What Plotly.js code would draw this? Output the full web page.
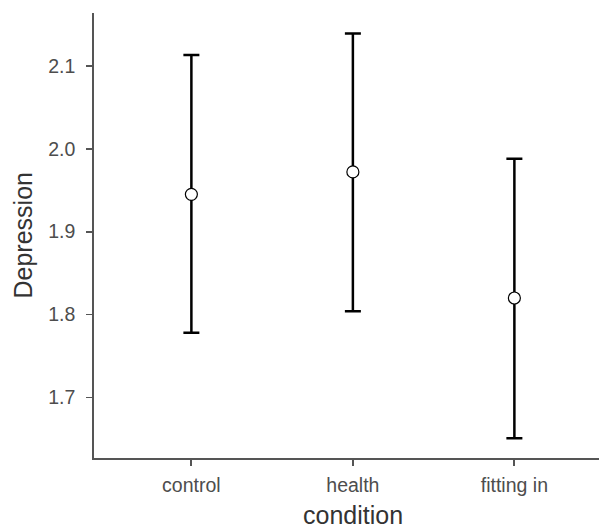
<!DOCTYPE html>
<html>
<head>
<meta charset="utf-8">
<script src="https://cdn.plot.ly/plotly-3.0.1.min.js"></script>
<style>html,body{margin:0;padding:0;background:#fff;}#chart{width:599px;height:531px;}</style>
</head>
<body>
<div id="chart"></div>
<script>
const categories = ["control", "health", "fitting in"];
const means = [1.945, 1.972, 1.820];
const upper = [2.113, 2.139, 1.988];
const lower = [1.778, 1.804, 1.651];
const yTicks = [1.7, 1.8, 1.9, 2.0, 2.1];
const yTickText = ["1.7", "1.8", "1.9", "2.0", "2.1"];

const xIdx = categories.map((c, i) => i + 1);
const errPlus = means.map((m, i) => upper[i] - m);
const errMinus = means.map((m, i) => m - lower[i]);

const font = "Liberation Sans, Arial, sans-serif";

const trace = {
  type: "scatter",
  mode: "markers",
  x: xIdx,
  y: means,
  marker: {symbol: "circle", size: 12, color: "#ffffff", line: {color: "#000000", width: 1.2}},
  error_y: {type: "data", symmetric: false, array: errPlus, arrayminus: errMinus,
            color: "#000000", thickness: 2.5, width: 8},
  hoverinfo: "none",
  showlegend: false
};

const layout = {
  width: 599, height: 531,
  margin: {l: 94, r: 0, t: 13, b: 73, pad: 0},
  paper_bgcolor: "#ffffff",
  plot_bgcolor: "#ffffff",
  font: {family: font},
  xaxis: {
    range: [0.397, 3.524],
    tickvals: xIdx,
    ticktext: categories,
    showgrid: false, zeroline: false,
    showline: true, linecolor: "#555555", linewidth: 1.8,
    ticks: "outside", ticklen: 6, tickwidth: 1.8, tickcolor: "#555555",
    tickfont: {family: font, size: 19.5, color: "#4d4d4d"},
    ticklabelstandoff: 3,
    fixedrange: true
  },
  yaxis: {
    range: [1.6271, 2.1636],
    tickvals: yTicks,
    ticktext: yTickText,
    showgrid: false, zeroline: false,
    showline: true, linecolor: "#555555", linewidth: 1.8,
    ticks: "outside", ticklen: 6, tickwidth: 1.8, tickcolor: "#555555",
    tickfont: {family: font, size: 19.5, color: "#4d4d4d"},
    ticklabelstandoff: 7,
    fixedrange: true
  },
  annotations: [
    {text: "condition", xref: "x", yref: "paper", x: 2, y: 0, yshift: -72,
     xanchor: "center", yanchor: "bottom", showarrow: false, borderpad: 0,
     font: {family: font, size: 25, color: "#333333"}},
    {text: "Depression", xref: "paper", yref: "paper", x: 0, y: 0.5, xshift: -72,
     xanchor: "center", yanchor: "middle", textangle: -90, showarrow: false,
     font: {family: font, size: 25, color: "#333333"}}
  ]
};

Plotly.newPlot("chart", [trace], layout, {staticPlot: true, displayModeBar: false});
</script>
</body>
</html>
